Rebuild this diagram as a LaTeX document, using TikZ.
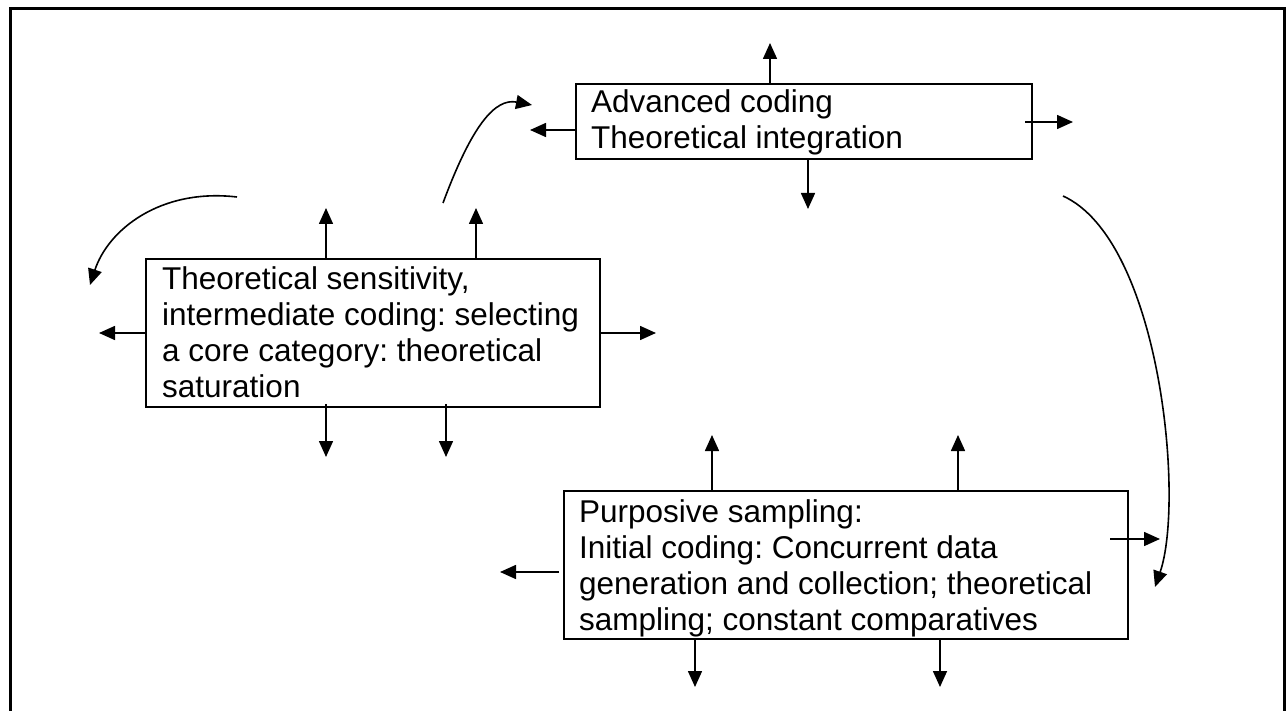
\documentclass[tikz,border=0pt]{standalone}
\usepackage{fontspec}
\setmainfont{Liberation Sans}
\usetikzlibrary{arrows.meta}

\begin{document}
\begin{tikzpicture}[x=1pt,y=-1pt,
  box/.style={draw, line width=2.2pt, inner sep=0pt, outer sep=0pt, anchor=north west},
  txt/.style={anchor=base west, inner sep=0pt, font=\fontsize{31.5}{36}\selectfont\frenchspacing},
  arr/.style={line width=1.6pt, -{Triangle[length=16pt,width=14pt]}},
  carr/.style={line width=1.6pt, -{Triangle[length=16pt,width=14pt]}},
]
\useasboundingbox (0,0) rectangle (1286,711);

% outer frame, open at the bottom
\draw[line width=3pt] (10,711) -- (10,9) -- (1284,9) -- (1284,711);

% the three stage boxes
\node[box, minimum width=456pt, minimum height=75pt]  (A) at (576,84)  {};
\node[box, minimum width=454pt, minimum height=148pt] (B) at (146,259) {};
\node[box, minimum width=564pt, minimum height=148pt] (C) at (564,491) {};

\node[txt] (At) at (591,113) {\begin{tabular}[t]{@{}l@{}}Advanced coding\\Theoretical integration\end{tabular}};
\node[txt] (Bt) at (162,290) {\begin{tabular}[t]{@{}l@{}}Theoretical sensitivity,\\intermediate coding: selecting\\a core category: theoretical\\saturation\end{tabular}};
\node[txt] (Ct) at (579,522) {\begin{tabular}[t]{@{}l@{}}Purposive sampling:\\Initial coding: Concurrent data\\generation and collection; theoretical\\sampling; constant comparatives\end{tabular}};

% free ends of the short arrows
\coordinate (a-up) at (770,43);
\coordinate (a-dn) at (808,209);
\coordinate (a-lf) at (530,130);
\coordinate (a-rt) at (1073,122);

\coordinate (b-up1) at (326,208);
\coordinate (b-up2) at (476,208);
\coordinate (b-dn1) at (326,457);
\coordinate (b-dn2) at (446,457);
\coordinate (b-lf) at (99,333);
\coordinate (b-rt) at (656,333);

\coordinate (c-up1) at (712,435);
\coordinate (c-up2) at (958,435);
\coordinate (c-dn1) at (695,687);
\coordinate (c-dn2) at (940,687);
\coordinate (c-lf) at (500,572);
\coordinate (c-rt) at (1160,539);

% short arrows leaving box A
\draw[arr] (a-up |- A.north) -- (a-up);
\draw[arr] (a-dn |- A.south) -- (a-dn);
\draw[arr] (A.west |- a-lf) -- (a-lf);
\draw[arr] ([xshift=-7pt]A.east |- a-rt) -- (a-rt);

% short arrows leaving box B
\draw[arr] (b-up1 |- B.north) -- (b-up1);
\draw[arr] (b-up2 |- B.north) -- (b-up2);
\draw[arr] ([yshift=3pt]b-dn1 |- B.south) -- (b-dn1);
\draw[arr] ([yshift=3pt]b-dn2 |- B.south) -- (b-dn2);
\draw[arr] (B.west |- b-lf) -- (b-lf);
\draw[arr] (B.east |- b-rt) -- (b-rt);

% short arrows leaving box C
\draw[arr] (c-up1 |- C.north) -- (c-up1);
\draw[arr] (c-up2 |- C.north) -- (c-up2);
\draw[arr] (c-dn1 |- C.south) -- (c-dn1);
\draw[arr] (c-dn2 |- C.south) -- (c-dn2);
\draw[arr] ([xshift=-5pt]C.west |- c-lf) -- (c-lf);
\draw[arr] ([xshift=-18pt]C.east |- c-rt) -- (c-rt);

% curved cycle arrows
\coordinate (l-s) at (237,197);
\coordinate (l-e) at (90,285);
\coordinate (m-s) at (443,203);
\coordinate (m-e) at (532,105);
\coordinate (r-s) at (1063,196);
\coordinate (r-e) at (1155,587);

\draw[carr] (l-s) .. controls (160,188) and (108,230) .. (l-e);
\draw[carr] (m-s) .. controls (472,125) and (495,98) .. (m-e);
\draw[carr] (r-s) .. controls (1160,240) and (1185,500) .. (r-e);
\end{tikzpicture}
\end{document}
